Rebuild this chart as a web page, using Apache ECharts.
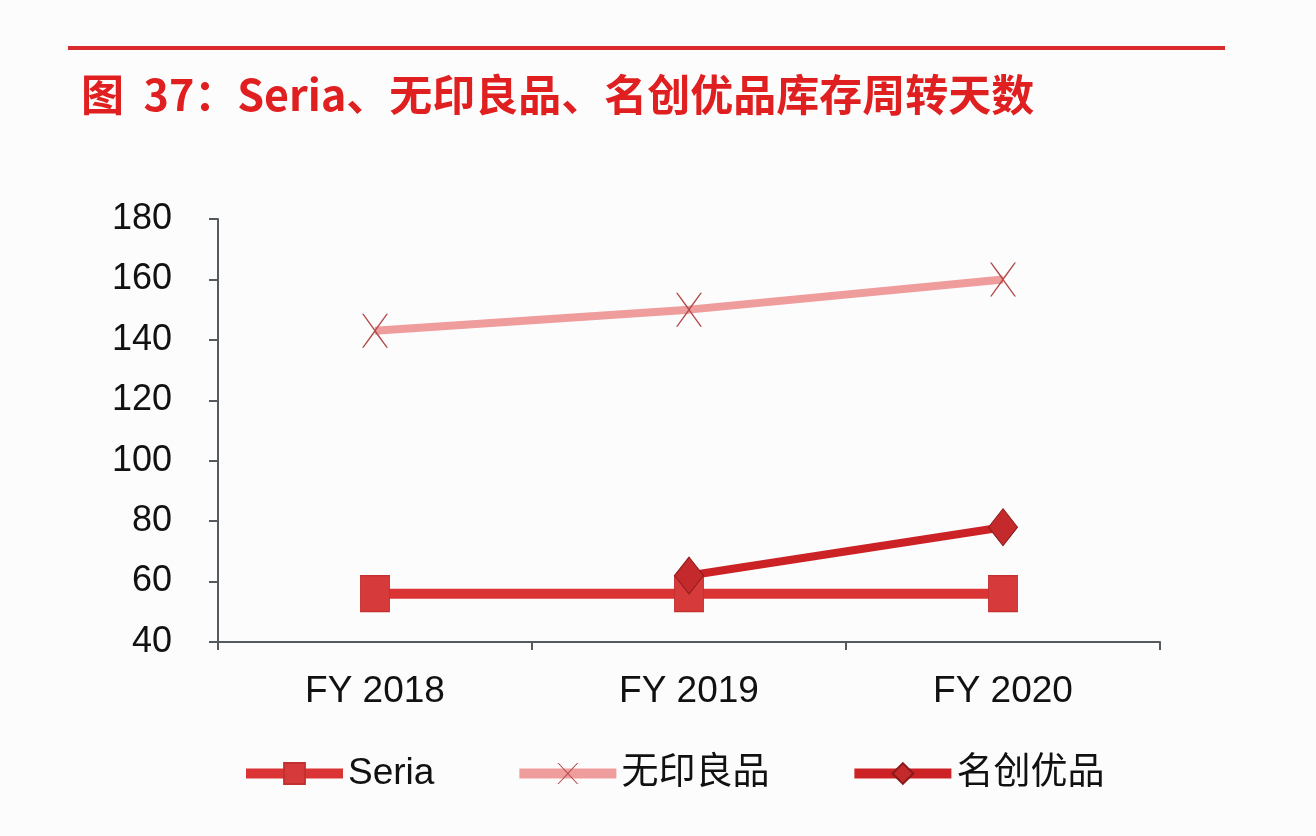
<!DOCTYPE html>
<html><head><meta charset="utf-8">
<script src="https://cdn.jsdelivr.net/npm/echarts@6/dist/echarts.min.js"></script>
<style>html,body{margin:0;padding:0;background:#fcfcfd;}#c{width:1316px;height:836px;}</style>
</head><body><div id="c"></div>
<script>
var categories = ['FY 2018', 'FY 2019', 'FY 2020'];
var seria = [56, 56, 56];
var muji = [143, 150, 160];
var miniso = [null, 62, 78];
var yTicks = [40, 180, 20];

var xPath = 'path://M0,0L1.6,0L13,15.6L24.4,0L26,0L13.8,17L26,34L24.4,34L13,18.4L1.6,34L0,34L12.2,17Z';

var chart = echarts.init(document.getElementById('c'));
chart.setOption({
  backgroundColor: '#fcfcfd',
  animation: false,
  title: {
    text: '图  37：Seria、无印良品、名创优品库存周转天数',
    left: 76, top: 68,
    textStyle: { color: '#e02020', fontSize: 43, fontWeight: 'bold', fontFamily: 'Noto Sans CJK SC' }
  },
  graphic: [{
    type: 'line', shape: { x1: 68, y1: 48, x2: 1225, y2: 48 },
    style: { stroke: '#d92b2b', lineWidth: 4 }
  }],
  grid: { left: 218, right: 156, top: 219, bottom: 194 },
  xAxis: {
    type: 'category', data: categories, boundaryGap: true,
    axisLine: { lineStyle: { color: '#555a60', width: 2 } },
    axisTick: { show: true, length: 8, lineStyle: { color: '#555a60', width: 2 } },
    axisLabel: { color: '#111', fontSize: 37, margin: 31, fontFamily: 'Liberation Sans' }
  },
  yAxis: {
    type: 'value', min: yTicks[0], max: yTicks[1], interval: yTicks[2],
    splitLine: { show: false },
    axisLine: { show: true, lineStyle: { color: '#555a60', width: 2 } },
    axisTick: { show: true, length: 9, lineStyle: { color: '#555a60', width: 2 } },
    axisLabel: { color: '#111', fontSize: 36, margin: 46, fontFamily: 'Liberation Sans' }
  },
  legend: {
    bottom: 39, left: 236, itemGap: 80, itemWidth: 97, itemHeight: 26,
    lineStyle: { width: 10 },
    textStyle: { color: '#111', fontSize: 37, fontFamily: 'Liberation Sans, Noto Sans CJK SC' },
    data: ['Seria', '无印良品', '名创优品']
  },
  series: [
    {
      name: 'Seria', type: 'line', data: seria,
      symbol: 'rect', symbolSize: [29, 36],
      lineStyle: { color: '#da3435', width: 10 },
      itemStyle: { color: '#d63a3a', borderColor: '#c33030', borderWidth: 1 },
      z: 2
    },
    {
      name: '无印良品', type: 'line', data: muji,
      symbol: xPath, symbolSize: [26, 34],
      lineStyle: { color: '#ef9c9c', width: 8 },
      itemStyle: { color: '#b24a4a' },
      z: 3
    },
    {
      name: '名创优品', type: 'line', data: miniso,
      symbol: 'diamond', symbolSize: [29, 37],
      lineStyle: { color: '#cc2226', width: 8 },
      itemStyle: { color: '#c42a2c', borderColor: '#8a1a1a', borderWidth: 1 },
      z: 4
    }
  ]
});
</script></body></html>
